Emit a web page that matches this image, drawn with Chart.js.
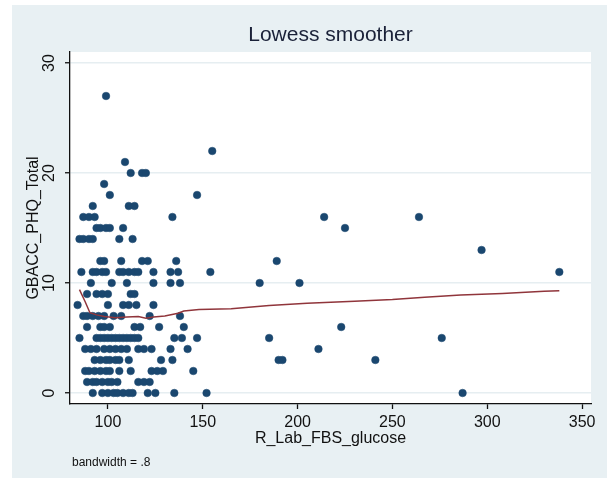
<!DOCTYPE html>
<html lang="en">
<head>
  <meta charset="UTF-8">
  <title>Lowess smoother</title>
  <script src="https://cdn.jsdelivr.net/npm/chart.js"></script>
  <style>
    body { margin: 0; background: #fff; }
    #wrap { width: 612px; height: 483px; }
  </style>
</head>
<body>
  <div id="wrap">
    <canvas id="lowessChart" width="612" height="483"></canvas>
  </div>

  <script>
    // Scatter points: R_Lab_FBS_glucose (x) and GBACC_PHQ_Total (y), grouped by y value
    const glucose = [
      99,                                   // 27
      155,                                  // 22
      109,                                  // 21
      112, 118, 120,                        // 20
      98,                                   // 19
      101, 147,                             // 18
      92, 111, 114,                         // 17
      87, 90, 93, 134, 214, 264,            // 16
      94, 96, 99, 101, 108, 225,            // 15
      85, 87, 90, 92, 106, 113,             // 14
      297,                                  // 13
      96, 98, 107, 118, 121, 136, 189,      // 12
      86, 92, 94, 97, 99, 106, 108, 111, 114, 116, 124, 133, 137, 154, 338, // 11
      91, 102, 110, 124, 133, 138, 180, 201,                                // 10
      89, 94, 97, 100, 112, 114,                                            // 9
      84, 100, 108, 111, 115, 124,                                          // 8
      87, 89, 92, 95, 98, 103, 107, 122, 138,                               // 7
      89, 96, 98, 101, 114, 117, 127, 140, 223,                             // 6
      85, 94, 96, 98, 100, 102, 104, 106, 108, 110, 112, 114, 116, 135, 139, 147, 185, 276, // 5
      88, 91, 94, 98, 101, 104, 107, 110, 116, 119, 123, 133, 142, 211,     // 4
      93, 96, 99, 101, 104, 106, 111, 128, 134, 190, 192, 241,              // 3
      88, 90, 93, 96, 99, 101, 106, 112, 123, 126, 129, 145,                // 2
      89, 92, 94, 97, 100, 102, 105, 116, 119, 122,                         // 1
      92, 97, 100, 103, 105, 108, 111, 113, 121, 125, 135, 152, 287         // 0
    ];
    const phqTotal = [
      27,
      22,
      21,
      20, 20, 20,
      19,
      18, 18,
      17, 17, 17,
      16, 16, 16, 16, 16, 16,
      15, 15, 15, 15, 15, 15,
      14, 14, 14, 14, 14, 14,
      13,
      12, 12, 12, 12, 12, 12, 12,
      11, 11, 11, 11, 11, 11, 11, 11, 11, 11, 11, 11, 11, 11, 11,
      10, 10, 10, 10, 10, 10, 10, 10,
      9, 9, 9, 9, 9, 9,
      8, 8, 8, 8, 8, 8,
      7, 7, 7, 7, 7, 7, 7, 7, 7,
      6, 6, 6, 6, 6, 6, 6, 6, 6,
      5, 5, 5, 5, 5, 5, 5, 5, 5, 5, 5, 5, 5, 5, 5, 5, 5, 5,
      4, 4, 4, 4, 4, 4, 4, 4, 4, 4, 4, 4, 4, 4,
      3, 3, 3, 3, 3, 3, 3, 3, 3, 3, 3, 3,
      2, 2, 2, 2, 2, 2, 2, 2, 2, 2, 2, 2,
      1, 1, 1, 1, 1, 1, 1, 1, 1, 1,
      0, 0, 0, 0, 0, 0, 0, 0, 0, 0, 0, 0, 0
    ];

    // Lowess curve
    const lowessGlucose = [85, 88, 90.5, 94, 98, 104, 110, 116, 120, 124, 130, 137, 140, 148, 165, 185, 205, 230, 250, 267, 286, 308, 330, 338];
    const lowessPhq     = [9.4, 8.3, 7.3, 7.1, 6.95, 6.85, 6.9, 6.95, 6.8, 6.9, 7.0, 7.25, 7.45, 7.6, 7.65, 7.95, 8.15, 8.35, 8.5, 8.7, 8.9, 9.05, 9.25, 9.3];

    const xTicks = [100, 150, 200, 250, 300, 350];
    const yTicks = [0, 10, 20, 30];

    const fontFamily = "'Liberation Sans Narrow', 'Arial Narrow', 'Liberation Sans', Arial, sans-serif";
    Chart.defaults.font.family = fontFamily;
    Chart.defaults.color = '#111';

    // Stata-like graph region: light blue-grey frame, white plot region
    const backgroundPlugin = {
      id: 'stataBackground',
      beforeDraw(chart) {
        const { ctx, chartArea } = chart;
        ctx.save();
        ctx.fillStyle = '#fff';
        ctx.fillRect(0, 0, chart.width, chart.height);
        ctx.fillStyle = '#e8f0f3';
        ctx.fillRect(12, 5, 595, 473);
        ctx.fillStyle = '#fff';
        ctx.fillRect(chartArea.left, chartArea.top, chartArea.right - chartArea.left, chartArea.bottom - chartArea.top);
        ctx.restore();
      },
      afterDraw(chart) {
        const { ctx, chartArea } = chart;
        ctx.save();
        ctx.font = '12px ' + fontFamily;
        ctx.fillStyle = '#111';
        ctx.textBaseline = 'middle';
        ctx.fillText('bandwidth = .8', chartArea.left + 2, 463);
        ctx.restore();
      }
    };

    const points = glucose.map((g, i) => ({ x: g, y: phqTotal[i] }));
    const lowess = lowessGlucose.map((g, i) => ({ x: g, y: lowessPhq[i] }));

    new Chart(document.getElementById('lowessChart'), {
      type: 'scatter',
      data: {
        datasets: [
          {
            type: 'line',
            label: 'lowess',
            data: lowess,
            borderColor: '#90353b',
            borderWidth: 1.5,
            pointRadius: 0,
            fill: false,
            tension: 0
          },
          {
            label: 'GBACC_PHQ_Total',
            data: points,
            pointStyle: 'circle',
            pointRadius: 3.8,
            backgroundColor: '#1a476f',
            borderColor: '#1a476f',
            borderWidth: 0.5
          }
        ]
      },
      options: {
        responsive: false,
        animation: false,
        layout: { padding: { left: 0, right: 21, top: 0, bottom: 0 } },
        plugins: {
          legend: { display: false },
          tooltip: { enabled: false },
          title: {
            display: true,
            text: 'Lowess smoother',
            fullSize: false,
            color: '#1a2138',
            font: { size: 21, weight: 'normal' },
            padding: { top: 22.4, bottom: 4.4 }
          }
        },
        scales: {
          x: {
            type: 'linear',
            min: 80,
            max: 354.7,
            afterBuildTicks: s => { s.ticks = xTicks.map(v => ({ value: v })); },
            afterFit: s => { s.height = 79; },
            ticks: { font: { size: 16 }, padding: 4, maxRotation: 0 },
            grid: { drawOnChartArea: false, tickLength: 5, tickColor: '#111', tickWidth: 1.3 },
            border: { display: true, color: '#111', width: 1.3 },
            title: {
              display: true,
              text: 'R_Lab_FBS_glucose',
              font: { size: 16 },
              padding: { top: 0, bottom: 34.4 }
            }
          },
          y: {
            type: 'linear',
            min: -1,
            max: 31,
            afterBuildTicks: s => { s.ticks = yTicks.map(v => ({ value: v })); },
            afterFit: s => { s.width = 70; },
            ticks: { font: { size: 16 }, minRotation: 90, maxRotation: 90, crossAlign: 'center', padding: 7 },
            grid: { color: '#e6eef1', lineWidth: 1.5, tickLength: 5, tickColor: '#111', tickWidth: 1.3 },
            border: { display: true, color: '#111', width: 1.3 },
            title: {
              display: true,
              text: 'GBACC_PHQ_Total',
              font: { size: 16 },
              padding: { top: 24.4, bottom: 0 }
            }
          }
        }
      },
      plugins: [backgroundPlugin]
    });
  </script>
</body>
</html>
